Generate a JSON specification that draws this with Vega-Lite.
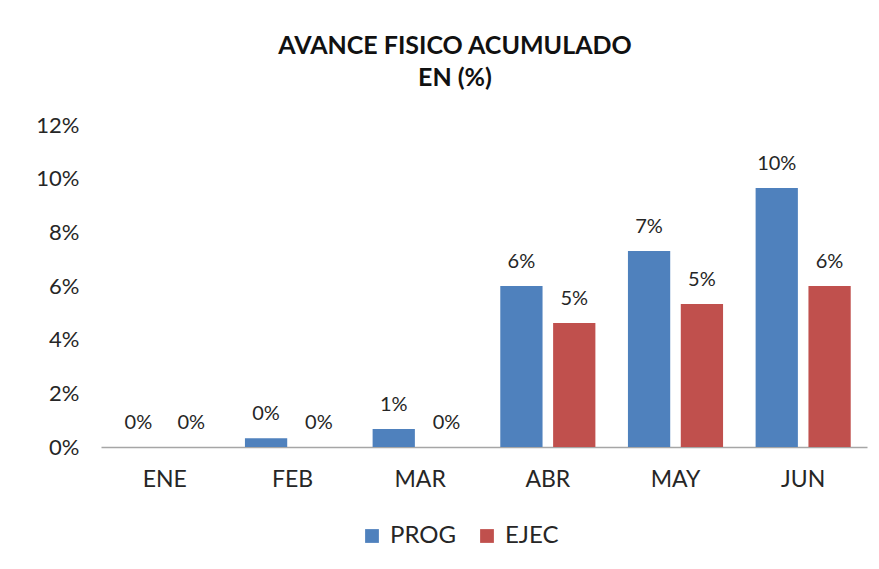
{
  "$schema": "https://vega.github.io/schema/vega-lite/v6.json",
  "autosize": {"type": "none"},
  "width": 766,
  "height": 322,
  "padding": {"left": 101, "top": 125, "right": 12, "bottom": 122},
  "background": "white",
  "title": {
    "text": ["AVANCE FISICO ACUMULADO", "EN (%)"],
    "font": "Lato",
    "fontSize": 25,
    "fontWeight": "bold",
    "color": "#111111",
    "lineHeight": 32,
    "anchor": "middle",
    "dx": -29,
    "offset": 23
  },
  "data": {
    "values": [
      {"mes": "ENE", "serie": "PROG", "valor": 0},
      {"mes": "ENE", "serie": "EJEC", "valor": 0},
      {"mes": "FEB", "serie": "PROG", "valor": 0.0033},
      {"mes": "FEB", "serie": "EJEC", "valor": 0},
      {"mes": "MAR", "serie": "PROG", "valor": 0.0067},
      {"mes": "MAR", "serie": "EJEC", "valor": 0},
      {"mes": "ABR", "serie": "PROG", "valor": 0.06},
      {"mes": "ABR", "serie": "EJEC", "valor": 0.0462},
      {"mes": "MAY", "serie": "PROG", "valor": 0.073},
      {"mes": "MAY", "serie": "EJEC", "valor": 0.0533},
      {"mes": "JUN", "serie": "PROG", "valor": 0.0965},
      {"mes": "JUN", "serie": "EJEC", "valor": 0.06}
    ]
  },
  "encoding": {
    "x": {
      "field": "mes",
      "type": "nominal",
      "sort": ["ENE", "FEB", "MAR", "ABR", "MAY", "JUN"],
      "scale": {"paddingInner": 0.255, "paddingOuter": 0.1275},
      "axis": {
        "title": null,
        "labelAngle": 0,
        "ticks": false,
        "domainColor": "#A6A6A6",
        "domainWidth": 1.5,
        "labelFont": "Lato",
        "labelFontSize": 23,
        "labelColor": "#262626",
        "labelPadding": 21
      }
    },
    "xOffset": {
      "field": "serie",
      "type": "nominal",
      "sort": ["PROG", "EJEC"],
      "scale": {"paddingInner": 0.2, "paddingOuter": 0}
    },
    "y": {
      "field": "valor",
      "type": "quantitative",
      "scale": {"domain": [0, 0.12], "nice": false},
      "axis": {
        "title": null,
        "values": [0, 0.02, 0.04, 0.06, 0.08, 0.1, 0.12],
        "format": ".0%",
        "grid": false,
        "domain": false,
        "ticks": false,
        "labelFont": "Lato",
        "labelFontSize": 22,
        "labelColor": "#262626",
        "labelPadding": 22
      }
    }
  },
  "layer": [
    {
      "mark": {"type": "bar"},
      "encoding": {
        "color": {
          "field": "serie",
          "type": "nominal",
          "sort": ["PROG", "EJEC"],
          "scale": {"domain": ["PROG", "EJEC"], "range": ["#4F81BD", "#C0504D"]},
          "legend": {
            "title": null,
            "orient": "none",
            "direction": "horizontal",
            "legendX": 259,
            "legendY": 399,
            "symbolType": "square",
            "symbolSize": 190,
            "symbolStrokeWidth": 0,
            "labelFont": "Lato",
            "labelFontSize": 24,
            "labelColor": "#262626",
            "columnPadding": 18,
            "labelOffset": 6
          }
        }
      }
    },
    {
      "mark": {"type": "text", "dy": -14, "baseline": "bottom", "font": "Lato", "fontSize": 20, "color": "#262626"},
      "encoding": {
        "text": {"field": "valor", "type": "quantitative", "format": ".0%"}
      }
    }
  ],
  "config": {"view": {"stroke": null}}
}
